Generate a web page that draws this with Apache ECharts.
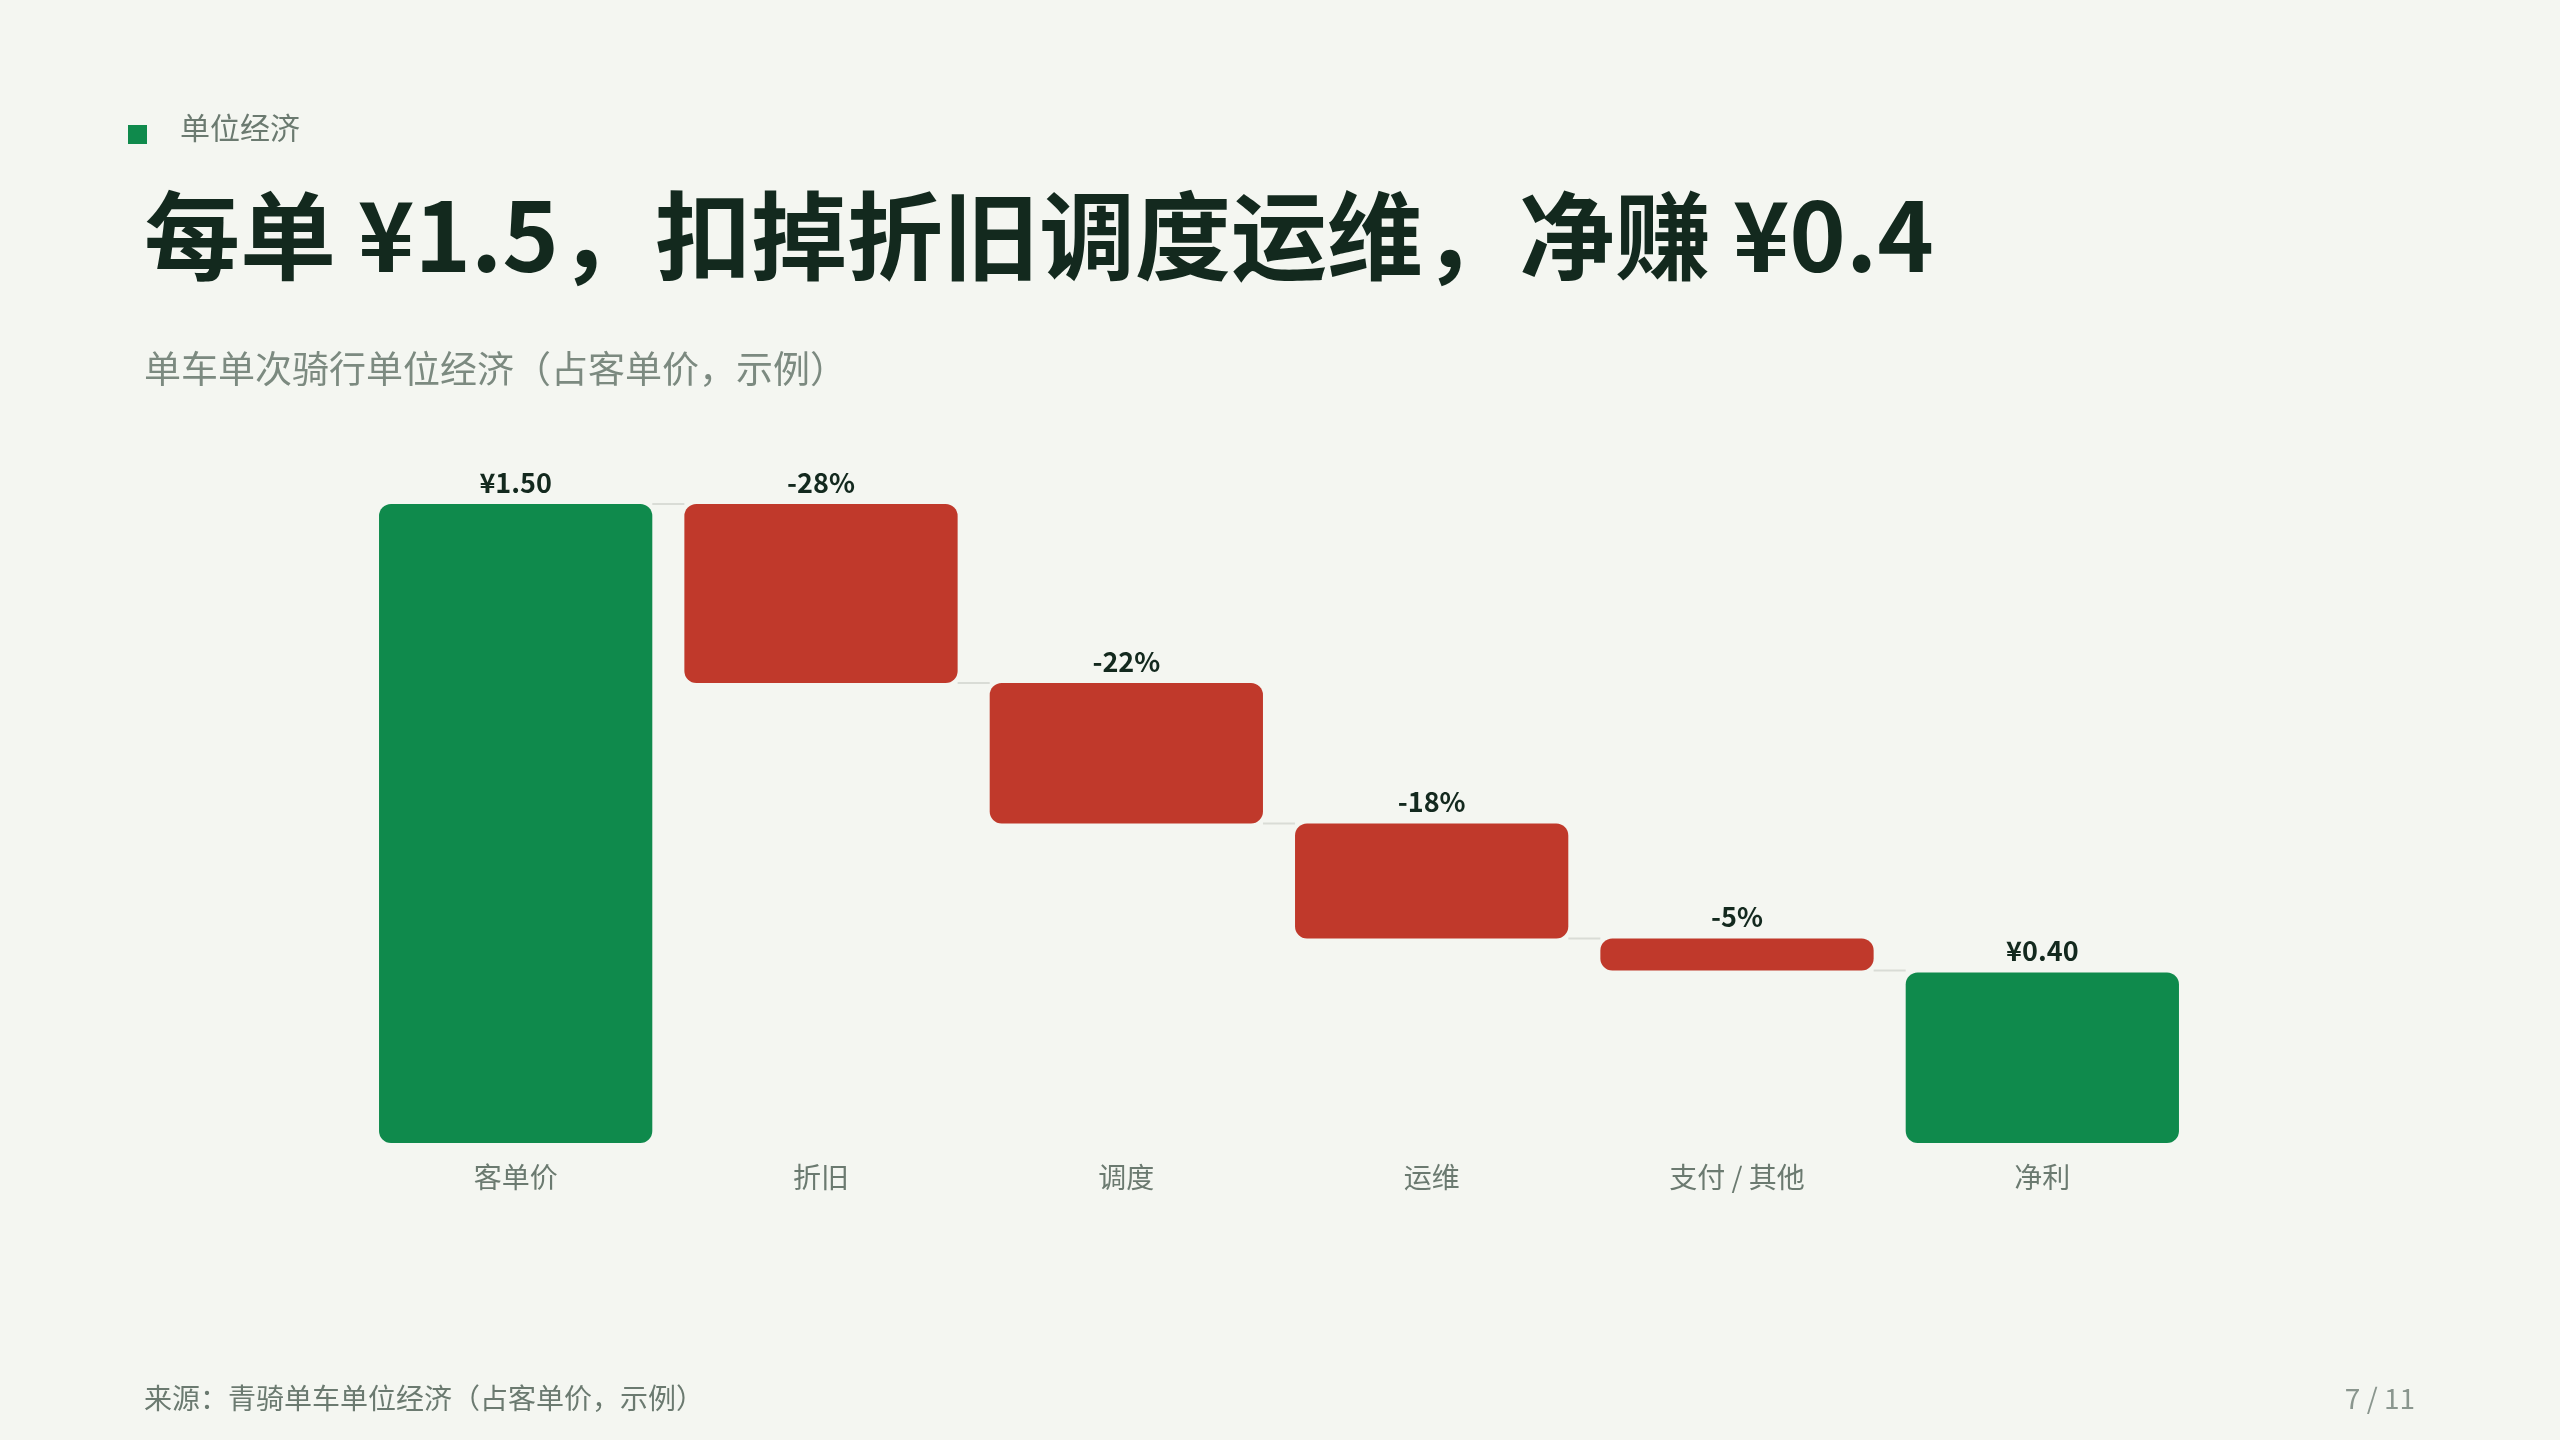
<!DOCTYPE html>
<html>
<head>
<meta charset="utf-8">
<script src="https://cdn.jsdelivr.net/npm/echarts@6/dist/echarts.min.js"></script>
<style>
html,body{margin:0;padding:0;background:#f4f6f1;}
#main{width:2560px;height:1440px;}
</style>
</head>
<body>
<div id="main"></div>
<script>
// 数据
var categories = ['客单价', '折旧', '调度', '运维', '支付 / 其他', '净利'];
var deltas = [1.5, -0.42, -0.33, -0.27, -0.075, 0.40];
var kinds = ['total', 'step', 'step', 'step', 'step', 'total'];
var labels = ['¥1.50', '-28%', '-22%', '-18%', '-5%', '¥0.40'];

var GREEN = '#0f8a4c', RED = '#c0392b';

// 计算每根柱的起止
var bars = [], links = [];
var run = 0;
for (var i = 0; i < categories.length; i++) {
    var lo, hi;
    if (kinds[i] === 'total') { lo = 0; hi = deltas[i]; run = deltas[i]; }
    else { hi = run; lo = run + deltas[i]; run = lo; }
    bars.push([i, lo, hi, kinds[i] === 'total' ? 1 : 0]);
    if (i < categories.length - 1) links.push([i, kinds[i] === 'total' ? hi : lo]);
}

var myChart = echarts.init(document.getElementById('main'));
var option = {
    backgroundColor: '#f4f6f1',
    textStyle: {fontFamily: '"Noto Sans CJK SC","Noto Sans",sans-serif'},
    graphic: [
        {type: 'rect', left: 128, top: 125, shape: {width: 19, height: 19}, style: {fill: GREEN}},
        {type: 'text', left: 180, top: 113, style: {text: '单位经济', fontSize: 30, fill: '#6b7a70', fontFamily: '"Noto Sans CJK SC"'}},
        {type: 'text', left: 144, top: 188, style: {text: '每单 ¥1.5，扣掉折旧调度运维，净赚 ¥0.4', fontSize: 96, fontWeight: 'bold', fill: '#13291e', fontFamily: '"Noto Sans CJK SC"'}},
        {type: 'text', left: 144, top: 350, style: {text: '单车单次骑行单位经济（占客单价，示例）', fontSize: 37, fill: '#7c8a80', fontFamily: '"Noto Sans CJK SC"'}},
        {type: 'text', left: 144, top: 1384, style: {text: '来源：青骑单车单位经济（占客单价，示例）', fontSize: 28, fill: '#6b7a70', fontFamily: '"Noto Sans CJK SC"'}},
        {type: 'text', right: 145, top: 1384, style: {text: '7 / 11', fontSize: 28, fill: '#8a968e', fontFamily: '"Noto Sans CJK SC"'}}
    ],
    grid: {left: 363, right: 365, top: 504, bottom: 297},
    xAxis: {
        type: 'category', data: categories,
        axisLine: {show: false}, axisTick: {show: false},
        axisLabel: {fontSize: 28, color: '#6b7a70', margin: 20}
    },
    yAxis: {type: 'value', min: 0, max: 1.5, show: false, splitLine: {show: false}},
    series: [
        {
            type: 'custom',
            data: links,
            z: 1,
            renderItem: function (params, api) {
                var x = api.value(0), y = api.value(1);
                var p1 = api.coord([x, y]), p2 = api.coord([x + 1, y]);
                var w = api.size([1, 0])[0] * 0.895;
                return {type: 'line', shape: {x1: p1[0] + w / 2, y1: p1[1], x2: p2[0] - w / 2, y2: p2[1]},
                    style: {stroke: '#d9dcd6', lineWidth: 2}};
            }
        },
        {
            type: 'custom',
            data: bars,
            z: 2,
            renderItem: function (params, api) {
                var x = api.value(0), lo = api.value(1), hi = api.value(2), tot = api.value(3);
                var top = api.coord([x, hi]), bot = api.coord([x, lo]);
                var w = api.size([1, 0])[0] * 0.895;
                return {
                    type: 'group',
                    children: [
                        {type: 'rect', shape: {x: top[0] - w / 2, y: top[1], width: w, height: bot[1] - top[1], r: 12},
                            style: {fill: tot ? GREEN : RED}},
                        {type: 'text', style: {text: labels[params.dataIndex], x: top[0], y: top[1] - 8,
                            align: 'center', verticalAlign: 'bottom', fontSize: 27, fontWeight: 'bold',
                            fill: '#13291e', fontFamily: '"Noto Sans CJK SC"'}}
                    ]
                };
            }
        }
    ]
};
myChart.setOption(option);
</script>
</body>
</html>
